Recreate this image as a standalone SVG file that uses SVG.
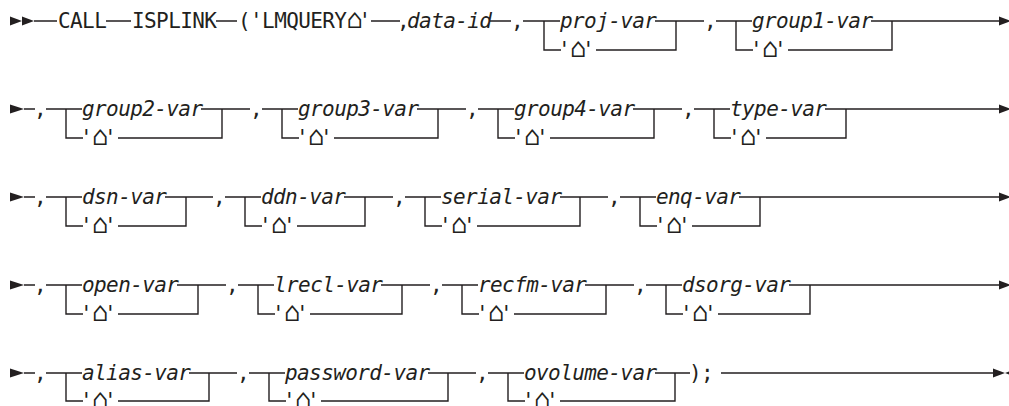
<svg xmlns="http://www.w3.org/2000/svg" width="1009" height="406" viewBox="0 0 1009 406">
<style>
.ln{fill:none;stroke:#231f20;stroke-width:1.4}
.ah{fill:#231f20}
text{font-family:"DejaVu Sans Mono","Liberation Mono",monospace;font-size:21px;letter-spacing:-0.6px;fill:#231f20}
.it{font-style:italic}
.cm{text-anchor:middle}
.h{font-size:27px;letter-spacing:-4.25px}
</style>
<rect width="1009" height="406" fill="#fff"/>
<g id="connectors">
<polygon class="ah" points="10,16.5 22,21 10,25.5"/>
<polygon class="ah" points="22,16.5 34,21 22,25.5"/>
<path class="ln" d="M34 21H57M106 21H131M216 21H237M371 21H400M490 21H511M523 21H560M655 21H704M716 21H752M871 21H999"/>
<polygon class="ah" points="999,16.5 1011,21 999,25.5"/>
<polygon class="ah" points="10,104.5 24,109 10,113.5"/>
<path class="ln" d="M24 109H35M46 109H82M201 109H250M262 109H298M417 109H466M478 109H514M633 109H682M694 109H730M825 109H999"/>
<polygon class="ah" points="999,104.5 1011,109 999,113.5"/>
<polygon class="ah" points="10,192.5 24,197 10,201.5"/>
<path class="ln" d="M24 197H35M46 197H82M165 197H213M225 197H261M344 197H393M405 197H441M560 197H608M620 197H656M739 197H999"/>
<polygon class="ah" points="999,192.5 1011,197 999,201.5"/>
<polygon class="ah" points="10,280.5 24,285 10,289.5"/>
<path class="ln" d="M24 285H35M46 285H82M177 285H226M238 285H274M381 285H430M442 285H478M585 285H634M646 285H682M789 285H999"/>
<polygon class="ah" points="999,280.5 1011,285 999,289.5"/>
<polygon class="ah" points="10,368.5 24,373 10,377.5"/>
<path class="ln" d="M24 373H35M46 373H82M189 373H237M249 373H285M428 373H476M488 373H524M655 373H690M721 373H993"/>
<polygon class="ah" points="993,368.5 1005,373 993,377.5"/>
<polygon class="ah" points="1017,368.5 1005,373 1017,377.5"/>
</g>
<g id="call"><text x="58" y="28">CALL</text></g>
<g id="isplink"><text x="132" y="28">ISPLINK</text></g>
<g id="lmquery"><text x="238" y="28">('LMQUERY<tspan class="h">⌂</tspan>'</text></g>
<g id="data-id"><text x="397" y="28">,<tspan class="it" dx="-2">data-id</tspan></text></g>
<g id="c1"><text class="cm" x="517" y="28">,</text></g>
<g id="proj-var"><path class="ln" d="M544 21V50H561"/><text class="it" x="560" y="28">proj-var</text><text x="558" y="57">'<tspan class="h">⌂</tspan>'</text><path class="ln" d="M596 50H676V21"/></g>
<g id="c2"><text class="cm" x="710" y="28">,</text></g>
<g id="group1-var"><path class="ln" d="M736 21V50H753"/><text class="it" x="752" y="28">group1-var</text><text x="750" y="57">'<tspan class="h">⌂</tspan>'</text><path class="ln" d="M788 50H892V21"/></g>

<g id="c3"><text class="cm" x="40" y="116">,</text></g>
<g id="group2-var"><path class="ln" d="M66 109V138H83"/><text class="it" x="82" y="116">group2-var</text><text x="80" y="145">'<tspan class="h">⌂</tspan>'</text><path class="ln" d="M118 138H222V109"/></g>
<g id="c4"><text class="cm" x="256" y="116">,</text></g>
<g id="group3-var"><path class="ln" d="M282 109V138H299"/><text class="it" x="298" y="116">group3-var</text><text x="296" y="145">'<tspan class="h">⌂</tspan>'</text><path class="ln" d="M334 138H438V109"/></g>
<g id="c5"><text class="cm" x="472" y="116">,</text></g>
<g id="group4-var"><path class="ln" d="M498 109V138H515"/><text class="it" x="514" y="116">group4-var</text><text x="512" y="145">'<tspan class="h">⌂</tspan>'</text><path class="ln" d="M550 138H654V109"/></g>
<g id="c6"><text class="cm" x="688" y="116">,</text></g>
<g id="type-var"><path class="ln" d="M714 109V138H731"/><text class="it" x="730" y="116">type-var</text><text x="728" y="145">'<tspan class="h">⌂</tspan>'</text><path class="ln" d="M766 138H846V109"/></g>

<g id="c7"><text class="cm" x="40" y="204">,</text></g>
<g id="dsn-var"><path class="ln" d="M66 197V226H83"/><text class="it" x="82" y="204">dsn-var</text><text x="80" y="233">'<tspan class="h">⌂</tspan>'</text><path class="ln" d="M118 226H186V197"/></g>
<g id="c8"><text class="cm" x="219" y="204">,</text></g>
<g id="ddn-var"><path class="ln" d="M245 197V226H262"/><text class="it" x="261" y="204">ddn-var</text><text x="259" y="233">'<tspan class="h">⌂</tspan>'</text><path class="ln" d="M297 226H365V197"/></g>
<g id="c9"><text class="cm" x="399" y="204">,</text></g>
<g id="serial-var"><path class="ln" d="M425 197V226H442"/><text class="it" x="441" y="204">serial-var</text><text x="439" y="233">'<tspan class="h">⌂</tspan>'</text><path class="ln" d="M477 226H580V197"/></g>
<g id="c10"><text class="cm" x="614" y="204">,</text></g>
<g id="enq-var"><path class="ln" d="M640 197V226H657"/><text class="it" x="656" y="204">enq-var</text><text x="654" y="233">'<tspan class="h">⌂</tspan>'</text><path class="ln" d="M692 226H760V197"/></g>

<g id="c11"><text class="cm" x="40" y="292">,</text></g>
<g id="open-var"><path class="ln" d="M66 285V314H83"/><text class="it" x="82" y="292">open-var</text><text x="80" y="321">'<tspan class="h">⌂</tspan>'</text><path class="ln" d="M118 314H198V285"/></g>
<g id="c12"><text class="cm" x="232" y="292">,</text></g>
<g id="lrecl-var"><path class="ln" d="M258 285V314H275"/><text class="it" x="274" y="292">lrecl-var</text><text x="272" y="321">'<tspan class="h">⌂</tspan>'</text><path class="ln" d="M310 314H402V285"/></g>
<g id="c13"><text class="cm" x="436" y="292">,</text></g>
<g id="recfm-var"><path class="ln" d="M462 285V314H479"/><text class="it" x="478" y="292">recfm-var</text><text x="476" y="321">'<tspan class="h">⌂</tspan>'</text><path class="ln" d="M514 314H606V285"/></g>
<g id="c14"><text class="cm" x="640" y="292">,</text></g>
<g id="dsorg-var"><path class="ln" d="M666 285V314H683"/><text class="it" x="682" y="292">dsorg-var</text><text x="680" y="321">'<tspan class="h">⌂</tspan>'</text><path class="ln" d="M718 314H810V285"/></g>

<g id="c15"><text class="cm" x="40" y="380">,</text></g>
<g id="alias-var"><path class="ln" d="M66 373V401H83"/><text class="it" x="82" y="380">alias-var</text><text x="80" y="408">'<tspan class="h">⌂</tspan>'</text><path class="ln" d="M118 401H209V373"/></g>
<g id="c16"><text class="cm" x="243" y="380">,</text></g>
<g id="password-var"><path class="ln" d="M269 373V401H286"/><text class="it" x="285" y="380">password-var</text><text x="283" y="408">'<tspan class="h">⌂</tspan>'</text><path class="ln" d="M321 401H448V373"/></g>
<g id="c17"><text class="cm" x="482" y="380">,</text></g>
<g id="ovolume-var"><path class="ln" d="M508 373V401H525"/><text class="it" x="524" y="380">ovolume-var</text><text x="522" y="408">'<tspan class="h">⌂</tspan>'</text><path class="ln" d="M560 401H675V373"/></g>
<g id="end"><text x="689" y="380" letter-spacing="4">);</text></g>
</svg>
